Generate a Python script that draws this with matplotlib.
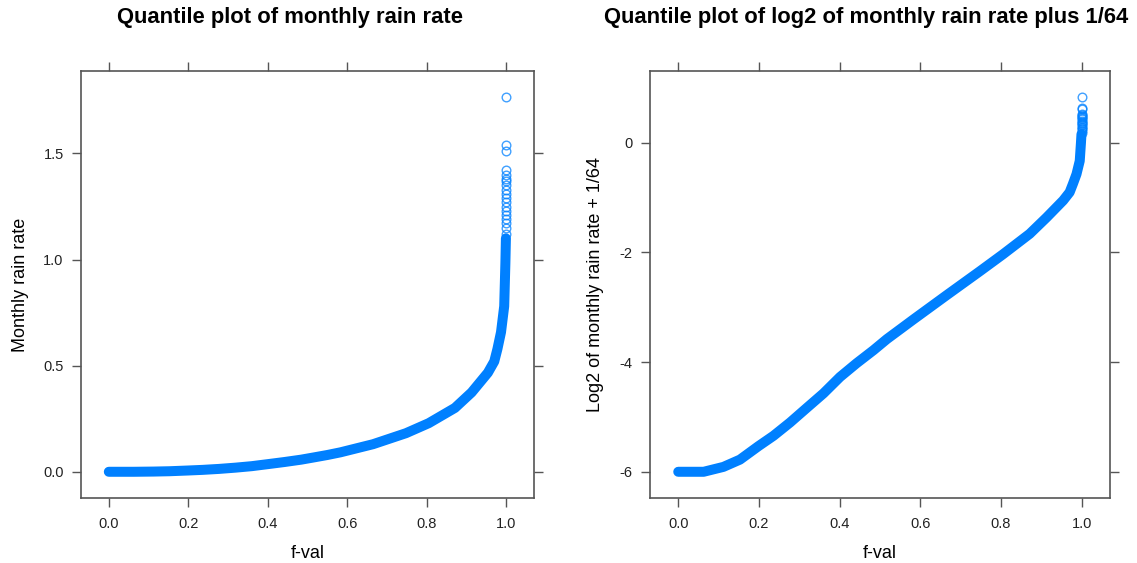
import numpy as np
import matplotlib
matplotlib.use("Agg")
import matplotlib.pyplot as plt

plt.rcParams['font.family'] = ['Liberation Sans', 'DejaVu Sans']

# quantile values (f-val -> monthly rain rate)
f_val = [0.0, 0.063, 0.112, 0.153, 0.199, 0.236, 0.277, 0.319, 0.36, 0.401,
         0.442, 0.484, 0.517, 0.55, 0.583, 0.665, 0.748, 0.805, 0.871, 0.913,
         0.954, 0.970, 0.978, 0.987, 0.995, 0.998, 0.9993]
rain = [0.0, 0.0, 0.001, 0.0026, 0.006, 0.009, 0.0135, 0.0195, 0.0265, 0.0362,
        0.046, 0.0571, 0.068, 0.0791, 0.0917, 0.130, 0.182, 0.229, 0.301, 0.374,
        0.467, 0.520, 0.579, 0.658, 0.78, 0.984, 1.1]

# upper tail, drawn as separate open circles
tail_f = [0.9994, 0.9995, 0.9995, 0.9996, 0.9996, 0.9997, 0.9997, 0.9997, 0.9998,
          0.9998, 0.9998, 0.9999, 0.9999, 0.9999, 0.9999, 1.0, 1.0, 1.0, 1.0]
tail_rain = [1.12, 1.15, 1.17, 1.19, 1.21, 1.23, 1.25, 1.27, 1.29, 1.31,
             1.33, 1.35, 1.37, 1.38, 1.40, 1.423, 1.51, 1.542, 1.765]

col = '#0080ff'
box_col = '#555555'

fig = plt.figure(figsize=(11.37, 5.63), dpi=100)
ax1 = fig.add_axes([81 / 1137, 65 / 563, 453 / 1137, 427 / 563])
ax2 = fig.add_axes([650 / 1137, 65 / 563, 460 / 1137, 427 / 563])

all_r = np.array(rain + tail_rain)
log_r = np.log2(np.array(rain) + 1 / 64)
log_tail = np.log2(np.array(tail_rain) + 1 / 64)

panels = [
    (ax1, np.array(rain), np.array(tail_rain), all_r, [0.0, 0.5, 1.0, 1.5], ['0.0', '0.5', '1.0', '1.5']),
    (ax2, log_r, log_tail, np.log2(all_r + 1 / 64), [-6, -4, -2, 0], ['-6', '-4', '-2', '0']),
]

for ax, y, ytail, yall, yt, ytl in panels:
    ax.plot(f_val, y, color=col, lw=7.2, solid_capstyle='round', solid_joinstyle='round')
    ax.plot(tail_f, ytail, 'o', mfc='none', mec=col, ms=6.2, mew=1.0, alpha=0.75)
    lo, hi = yall.min(), yall.max()
    pad = 0.07 * (hi - lo)
    ax.set_ylim(lo - pad, hi + pad)
    ax.set_xlim(-0.07, 1.07)
    ax.set_xticks([0.0, 0.2, 0.4, 0.6, 0.8, 1.0])
    ax.set_xticklabels(['0.0', '0.2', '0.4', '0.6', '0.8', '1.0'])
    ax.set_yticks(yt)
    ax.set_yticklabels(ytl)
    ax.tick_params(direction='out', length=6.5, width=1, color=box_col, top=True, right=True,
                   labeltop=False, labelright=False, labelsize=10.5, labelcolor='#222222')
    ax.tick_params(axis='x', pad=7)
    ax.tick_params(axis='y', pad=6)
    for s in ax.spines.values():
        s.set_color(box_col)
        s.set_linewidth(1.2)

# titles and axis labels
fig.text(290 / 1137, 1 - 18 / 563, 'Quantile plot of monthly rain rate', ha='center', va='center',
         fontsize=15.8, fontweight='bold')
fig.text(866 / 1137, 1 - 18 / 563, 'Quantile plot of log2 of monthly rain rate plus 1/64',
         ha='center', va='center', fontsize=15.8, fontweight='bold')
fig.text(307.5 / 1137, 1 - 558 / 563, 'f-val', ha='center', va='baseline', fontsize=13)
fig.text(880 / 1137, 1 - 558 / 563, 'f-val', ha='center', va='baseline', fontsize=13)
fig.text(21 / 1137, 1 - 284.5 / 563, 'Monthly rain rate', ha='center', va='center',
         rotation=90, fontsize=13)
fig.text(596 / 1137, 1 - 284.5 / 563, 'Log2 of monthly rain rate + 1/64', ha='center',
         va='center', rotation=90, fontsize=13)

fig.savefig('out.png', dpi=100)
